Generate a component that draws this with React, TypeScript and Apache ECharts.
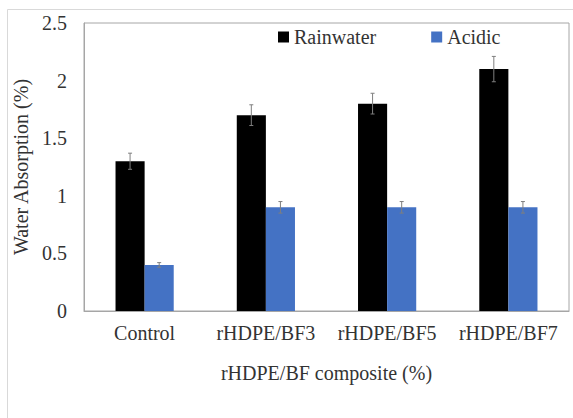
import React, { useEffect, useRef } from "react";
import * as echarts from "echarts";

const categories = ["Control", "rHDPE/BF3", "rHDPE/BF5", "rHDPE/BF7"];
const rainwater = [1.3, 1.7, 1.8, 2.1];
const rainwaterErr = [0.07, 0.09, 0.09, 0.11];
const acidic = [0.4, 0.9, 0.9, 0.9];
const acidicErr = [0.02, 0.05, 0.05, 0.05];
const yTicks = [0, 0.5, 1, 1.5, 2, 2.5];

const FONT = "Liberation Serif";
const TEXT = "#333333";

function errorSeries(name: string, values: number[], errs: number[], side: number) {
  return {
    type: "custom",
    name: name + " error",
    silent: true,
    z: 10,
    data: values.map((v, i) => [i, v, errs[i]]),
    renderItem: (params: any, api: any) => {
      const i = api.value(0);
      const v = api.value(1);
      const e = api.value(2);
      const band = api.size([1, 0])[0];
      const off = side * band * 0.12;
      const top = api.coord([i, v + e]);
      const bot = api.coord([i, v - e]);
      const x = top[0] + off;
      const cap = 2;
      const style = { stroke: "#7f7f7f", lineWidth: 1, fill: null };
      return {
        type: "group",
        children: [
          { type: "line", shape: { x1: x, y1: top[1], x2: x, y2: bot[1] }, style },
          { type: "line", shape: { x1: x - cap, y1: top[1], x2: x + cap, y2: top[1] }, style },
          { type: "line", shape: { x1: x - cap, y1: bot[1], x2: x + cap, y2: bot[1] }, style },
        ],
      };
    },
  };
}

export default function App() {
  const ref = useRef<HTMLDivElement>(null);
  useEffect(() => {
    if (!ref.current) return;
    const chart = echarts.init(ref.current, null, { renderer: "svg" });
    chart.setOption({
      animation: false,
      backgroundColor: "#ffffff",
      textStyle: { fontFamily: FONT, color: TEXT },
      graphic: [
        {
          type: "rect",
          shape: { x: 7.5, y: 9.5, width: 600, height: 450 },
          style: { fill: null, stroke: "#d9d9d9", lineWidth: 1 },
          silent: true,
          z: -10,
        },
      ],
      legend: {
        left: 278,
        top: 27,
        padding: 0,
        icon: "rect",
        itemWidth: 11,
        itemHeight: 11,
        itemGap: 55,
        textStyle: { fontFamily: FONT, fontSize: 20, color: TEXT },
        data: ["Rainwater", "Acidic"],
      },
      grid: {
        left: 84,
        right: 4,
        top: 23,
        bottom: 107,
        show: true,
        borderColor: "#a6a6a6",
        borderWidth: 1,
        containLabel: false,
      },
      xAxis: {
        type: "category",
        data: categories,
        name: "rHDPE/BF composite (%)",
        nameLocation: "middle",
        nameGap: 52,
        nameTextStyle: { fontFamily: FONT, fontSize: 20, color: TEXT },
        axisLine: { show: true, lineStyle: { color: "#a6a6a6" } },
        axisTick: { show: false },
        axisLabel: { fontFamily: FONT, fontSize: 20, color: TEXT, margin: 12, interval: 0 },
      },
      yAxis: {
        type: "value",
        min: yTicks[0],
        max: yTicks[yTicks.length - 1],
        interval: 0.5,
        name: "Water Absorption (%)",
        nameLocation: "middle",
        nameGap: 50,
        nameTextStyle: { fontFamily: FONT, fontSize: 20, color: TEXT },
        axisLine: { show: true, lineStyle: { color: "#a6a6a6" } },
        axisTick: { show: false },
        splitLine: { show: false },
        axisLabel: { fontFamily: FONT, fontSize: 20, color: TEXT, margin: 17 },
      },
      series: [
        {
          type: "bar",
          name: "Rainwater",
          data: rainwater,
          barWidth: "24%",
          barGap: "0%",
          itemStyle: { color: "#000000" },
        },
        {
          type: "bar",
          name: "Acidic",
          data: acidic,
          barWidth: "24%",
          barGap: "0%",
          itemStyle: { color: "#4472C4" },
        },
        errorSeries("Rainwater", rainwater, rainwaterErr, -1),
        errorSeries("Acidic", acidic, acidicErr, 1),
      ],
    });
    return () => chart.dispose();
  }, []);
  return (
    <div
      ref={ref}
      style={{ position: "fixed", left: 0, top: 0, width: 573, height: 418 }}
    />
  );
}
